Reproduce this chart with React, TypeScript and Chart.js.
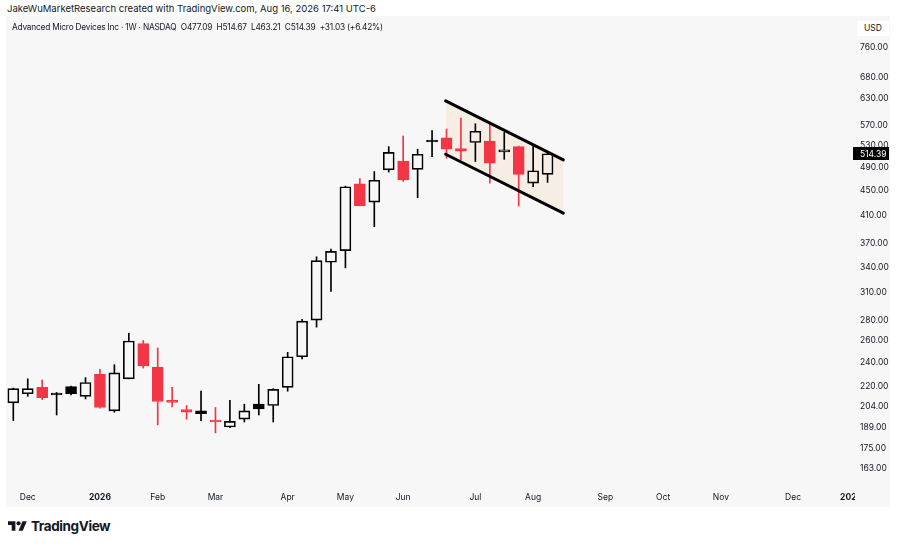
import React, { useEffect, useRef } from "react";
import { Chart, registerables } from "chart.js";

Chart.register(...registerables);

// ---- Data (weekly candles, AMD, NASDAQ) ----
const opens = [207, 214, 219, 213, 219.6, 212, 230, 201, 226, 257, 236, 207.8, 202, 199, 194, 189.5, 195, 206, 205, 219, 245, 280, 346, 361, 461, 431, 485, 501, 486, 537, 545, 524, 536, 539, 518, 528, 462, 477.09];
const highs = [218.5, 226, 225, 215, 220, 227, 234, 238, 267, 260, 253, 219, 205, 216, 203.5, 209, 206, 221.5, 218, 249, 281, 353, 363, 457, 470, 482, 528, 549, 523, 560, 563, 586, 574, 575, 556, 529, 529, 514.67];
const lows = [194, 212, 209.5, 198, 213, 210, 203, 200, 226, 235, 191, 204, 195, 194, 185.5, 189, 193, 198, 193, 216, 243, 273, 311, 339, 425, 394, 481, 465, 438, 509, 506, 503, 500, 462, 504, 425, 456, 463.21];
const closes = [218, 218, 211, 213.5, 214, 223, 203.5, 231, 259.5, 237, 208, 207.3, 200, 201, 193, 193.5, 201, 202.5, 217.5, 245, 279, 348, 360, 456, 425.5, 467, 517, 467.5, 513.5, 538, 523, 519.5, 558.5, 497, 521.5, 477, 483.36, 514.39];

// weekly categories (Mondays), first bar = week of 24 Nov 2025, axis runs to Jan 2027
const firstWeekUTC = Date.UTC(2025, 10, 24);
const weekCount = 59;
const monthNames = ["Jan", "Feb", "Mar", "Apr", "May", "Jun", "Jul", "Aug", "Sep", "Oct", "Nov", "Dec"];
const weeks = Array.from({ length: weekCount }, (_, i) => new Date(firstWeekUTC + i * 7 * 86400000));

// price axis tick labels
const priceTicks = [163, 175, 189, 204, 220, 240, 260, 280, 310, 340, 370, 410, 450, 490, 530, 570, 630, 680, 760];

// descending channel drawing (bar index, price)
const channelX = [29.94, 38.09];
const channelUpper = [624, 503];
const channelLower = [513.5, 414];

const RED = "#f23645";
const BLACK = "#000000";
const PANEL = "#f7f7f7";
const TEXT = "#131722";
const FONT = "Inter, 'Noto Sans', sans-serif";

// month tick positions from the week dates
const monthTicks: { idx: number; label: string; bold: boolean }[] = [];
weeks.forEach((d, i) => {
  if (i === 0) return;
  const m = d.getUTCMonth();
  if (m !== weeks[i - 1].getUTCMonth()) {
    monthTicks.push({ idx: i, label: m === 0 ? String(d.getUTCFullYear()) : monthNames[m], bold: m === 0 });
  }
});

const upDay = (i: number) => i === 0 || closes[i] >= closes[i - 1];
const candleColor = (i: number) => (upDay(i) ? BLACK : RED);
const hollow = (i: number) => closes[i] >= opens[i];

export default function App() {
  const ref = useRef<HTMLCanvasElement | null>(null);

  useEffect(() => {
    if (!ref.current) return;
    Chart.defaults.font.family = FONT;
    const idx = opens.map((_, i) => i);

    const coverPlugin = {
      id: "cover",
      beforeDatasetsDraw(chart: any) {
        const { ctx, chartArea } = chart;
        ctx.save();
        ctx.fillStyle = PANEL;
        ctx.fillRect(chartArea.right, chartArea.bottom, chart.width - chartArea.right, chart.height - chartArea.bottom);
        ctx.restore();
      },
    };

    const lastPricePlugin = {
      id: "lastPrice",
      afterDraw(chart: any) {
        const { ctx, chartArea } = chart;
        const last = closes[closes.length - 1];
        const y = chart.scales.y.getPixelForValue(last);
        ctx.save();
        ctx.fillStyle = "#000";
        ctx.fillRect(chartArea.right - 2, Math.round(y - 6.5), 36, 13);
        ctx.fillStyle = "#fff";
        ctx.font = `8.5px ${FONT}`;
        ctx.textBaseline = "middle";
        ctx.textAlign = "left";
        ctx.fillText(last.toFixed(2), chartArea.right + 5, y + 0.5);
        ctx.restore();
      },
    };

    const zeroPad = (scale: any) => {
      scale.paddingTop = 0;
      scale.paddingBottom = 0;
      scale.paddingLeft = 0;
      scale.paddingRight = 0;
    };

    const chart = new Chart(ref.current, {
      type: "bar",
      data: {
        datasets: [
          {
            type: "line",
            data: channelX.map((x, k) => ({ x, y: channelUpper[k] })),
            borderWidth: 0,
            pointRadius: 0,
            fill: "+1",
            backgroundColor: "rgba(245,160,80,0.10)",
            order: 10,
          } as any,
          {
            type: "line",
            data: channelX.map((x, k) => ({ x, y: channelLower[k] })),
            borderWidth: 0,
            pointRadius: 0,
            fill: false,
            order: 10,
          } as any,
          {
            data: idx.map((i) => ({ x: i, y: [Math.max(opens[i], closes[i]), highs[i]] })),
            backgroundColor: idx.map(candleColor),
            barThickness: 1,
            grouped: false,
            order: 5,
          } as any,
          {
            data: idx.map((i) => ({ x: i, y: [lows[i], Math.min(opens[i], closes[i])] })),
            backgroundColor: idx.map(candleColor),
            barThickness: 1,
            grouped: false,
            order: 5,
          } as any,
          {
            data: idx.map((i) => ({ x: i, y: [opens[i], closes[i]] })),
            backgroundColor: idx.map((i) => (hollow(i) ? "rgba(0,0,0,0)" : candleColor(i))),
            borderColor: idx.map(candleColor),
            borderWidth: 1,
            borderSkipped: false,
            barThickness: 11,
            minBarLength: 2,
            grouped: false,
            order: 4,
          } as any,
          {
            type: "line",
            data: channelX.map((x, k) => ({ x, y: channelUpper[k] })),
            borderColor: "#000",
            borderWidth: 3,
            borderCapStyle: "round",
            pointRadius: 0,
            fill: false,
            order: 0,
          } as any,
          {
            type: "line",
            data: channelX.map((x, k) => ({ x, y: channelLower[k] })),
            borderColor: "#000",
            borderWidth: 3,
            borderCapStyle: "round",
            pointRadius: 0,
            fill: false,
            order: 0,
          } as any,
        ],
      },
      options: {
        animation: false,
        responsive: false,
        layout: { padding: 0 },
        plugins: { legend: { display: false }, tooltip: { enabled: false } },
        scales: {
          x: {
            type: "linear",
            offset: false,
            min: -0.506,
            max: 58.29,
            grid: { display: false, drawTicks: false },
            border: { display: false },
            afterFit(scale: any) {
              scale.height = 20;
              zeroPad(scale);
            },
            afterBuildTicks(scale: any) {
              scale.ticks = monthTicks.map((t) => ({ value: t.idx }));
            },
            ticks: {
              autoSkip: false,
              maxRotation: 0,
              padding: 5,
              color: TEXT,
              font: (ctx: any) => {
                const t = monthTicks.find((m) => m.idx === ctx.tick?.value);
                return { size: 8.5, weight: t && t.bold ? "bold" : "normal", family: FONT };
              },
              callback: (v: any) => {
                const t = monthTicks.find((m) => m.idx === v);
                return t ? t.label : "";
              },
            },
          },
          y: {
            type: "logarithmic",
            position: "right",
            min: 152.2,
            max: 851,
            grid: { display: false, drawTicks: false },
            border: { display: false },
            afterFit(scale: any) {
              scale.width = 35;
              zeroPad(scale);
            },
            afterBuildTicks(scale: any) {
              scale.ticks = priceTicks.map((v) => ({ value: v }));
            },
            ticks: {
              padding: 5,
              color: TEXT,
              font: { size: 8.5, family: FONT },
              callback: (v: any) => Number(v).toFixed(2),
            },
          },
        },
      } as any,
      plugins: [coverPlugin, lastPricePlugin],
    });
    return () => chart.destroy();
  }, []);

  return (
    <div style={{ position: "fixed", left: 0, top: 0, width: 900, height: 546, background: "#fff", fontFamily: FONT, color: TEXT }}>
      <div style={{ position: "absolute", left: 7, top: 3, fontSize: 9.5, lineHeight: "12px", whiteSpace: "nowrap" }}>
        JakeWuMarketResearch created with TradingView.com, Aug 16, 2026 17:41 UTC-6
      </div>
      <div style={{ position: "absolute", left: 6, top: 16, width: 884, height: 491, background: PANEL }}>
        <canvas ref={ref} width={884} height={491} style={{ position: "absolute", left: 0, top: 0, width: 884, height: 491 }} />
        <div style={{ position: "absolute", left: 6, top: 5, fontSize: 8.3, letterSpacing: -0.2, lineHeight: "12px", whiteSpace: "pre" }}>
          {"Advanced Micro Devices Inc · 1W · NASDAQ  O477.09  H514.67  L463.21  C514.39  +31.03 (+6.42%)"}
        </div>
        <div style={{ position: "absolute", left: 851, top: 5, width: 32, height: 15, background: "#fff", fontSize: 8.5, lineHeight: "15px", textAlign: "center" }}>
          USD
        </div>
      </div>
      <div style={{ position: "absolute", left: 8, top: 518, display: "flex", alignItems: "center", gap: 4 }}>
        <svg width="19" height="15" viewBox="0 0 36 28" fill="#131722">
          <path d="M14 22H7V11H0V4h14v18z" />
          <path d="M28 22h-8l7.5-18h8L28 22z" />
          <circle cx="20" cy="8" r="4" />
        </svg>
        <span style={{ fontSize: 13.5, fontWeight: 700, letterSpacing: -0.4 }}>TradingView</span>
      </div>
    </div>
  );
}
